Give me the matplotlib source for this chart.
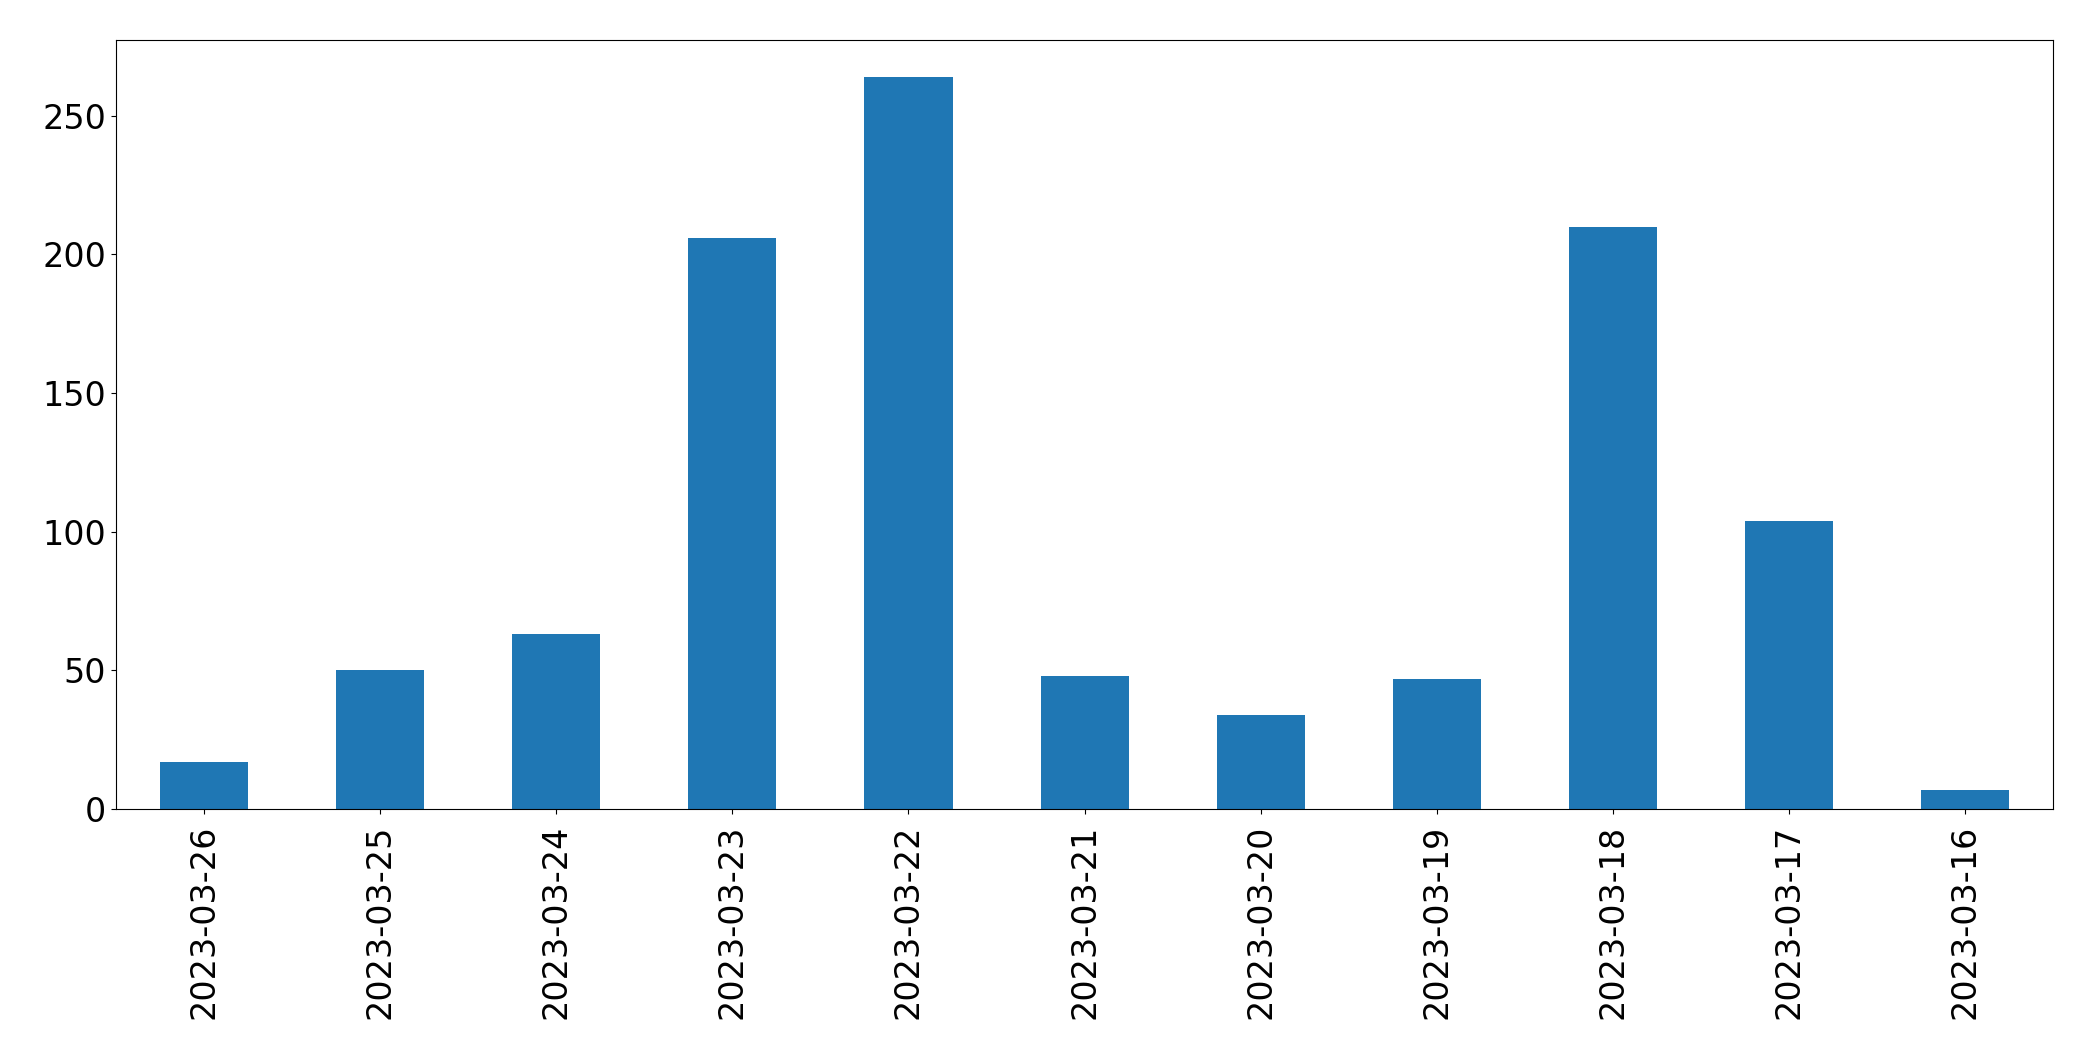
import matplotlib
matplotlib.use("Agg")
import matplotlib.pyplot as plt
import numpy as np

# daily counts, newest first
dates = ["2023-03-26", "2023-03-25", "2023-03-24", "2023-03-23", "2023-03-22",
         "2023-03-21", "2023-03-20", "2023-03-19", "2023-03-18", "2023-03-17",
         "2023-03-16"]
counts = [17, 50, 63, 206, 264, 48, 34, 47, 210, 104, 7]

fig, ax = plt.subplots(figsize=(20.93, 10.61), dpi=100)
fig.subplots_adjust(left=0.0554, right=0.981, top=0.962, bottom=0.2375)

x = np.arange(len(dates))
ax.bar(x, counts, width=0.5, color="#1f77b4")
ax.set_xlim(-0.5, len(dates) - 0.5)
ax.set_xticks(x)
ax.set_xticklabels(dates, rotation=90)
ax.tick_params(axis="both", labelsize=24)
ax.tick_params(axis="x", pad=8)

plt.savefig("out.png", dpi=100)
